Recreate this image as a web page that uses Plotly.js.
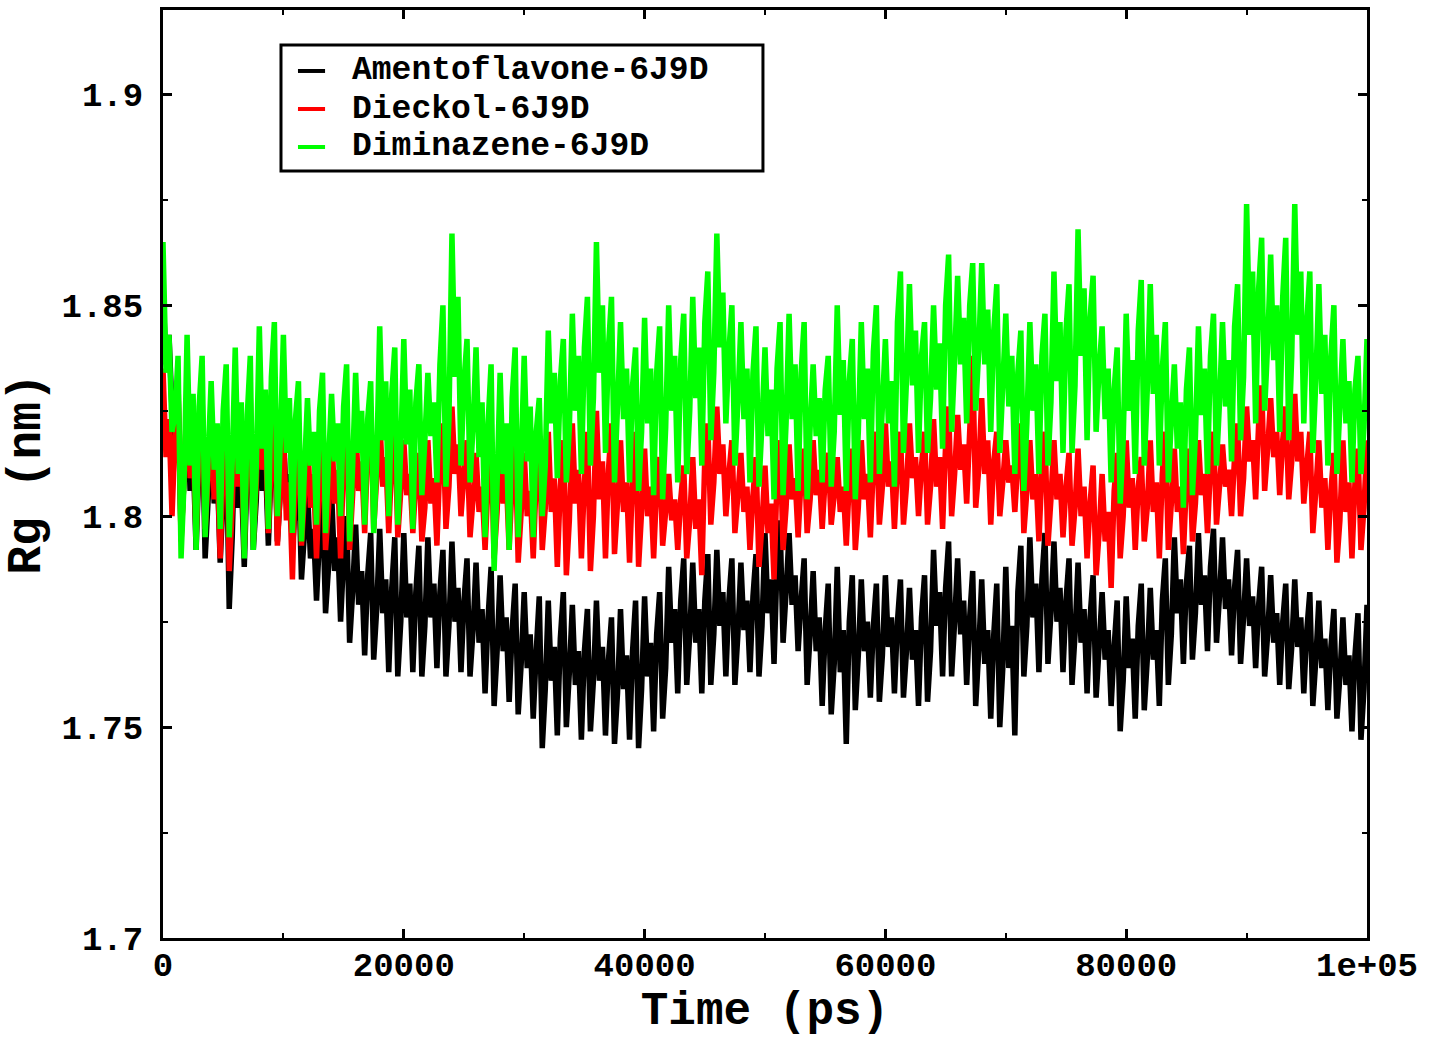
<!DOCTYPE html>
<html>
<head>
<meta charset="utf-8">
<script src="https://cdn.plot.ly/plotly-3.0.1.min.js"></script>
<style>
  body { margin: 0; background: #fff; }
  #chart { width: 1429px; height: 1039px; }
</style>
</head>
<body>
<div id="chart"></div>
<script>
// sampling grid, ps (one frame every 250 ps)
const time = Array.from({ length: 401 }, (_, i) => i * 250);

const seriesNames = ["Amentoflavone-6J9D", "Dieckol-6J9D", "Diminazene-6J9D"];
const seriesColors = ["#000000", "#ff0000", "#00ff00"];

// Rg (nm), 4 frames per 1000 ps
const amentoflavone = [
  1.853,1.836,1.843,1.825, 1.818,1.830,1.795,1.809, 1.828,1.806,1.815,1.792, 1.813,1.826,1.790,1.804,
  1.824,1.803,1.812,1.789, 1.805,1.820,1.778,1.795, 1.822,1.802,1.810,1.788, 1.812,1.823,1.792,1.804,
  1.825,1.806,1.814,1.793, 1.813,1.823,1.794,1.806, 1.820,1.803,1.810,1.792, 1.803,1.812,1.785,1.796,
  1.806,1.790,1.797,1.780, 1.795,1.804,1.777,1.788, 1.806,1.787,1.795,1.775, 1.790,1.800,1.770,1.782,
  1.798,1.779,1.787,1.767, 1.786,1.796,1.766,1.778, 1.797,1.777,1.785,1.763, 1.783,1.795,1.762,1.775,
  1.796,1.776,1.784,1.763, 1.782,1.793,1.762,1.774, 1.795,1.776,1.784,1.764, 1.782,1.792,1.762,1.774,
  1.794,1.775,1.783,1.763, 1.780,1.790,1.762,1.773, 1.789,1.770,1.778,1.758, 1.776,1.788,1.755,1.768,
  1.786,1.768,1.776,1.756, 1.773,1.784,1.753,1.765, 1.782,1.764,1.772,1.752, 1.768,1.781,1.745,1.759,
  1.780,1.761,1.769,1.748, 1.771,1.782,1.750,1.763, 1.779,1.760,1.768,1.747, 1.768,1.778,1.749,1.761,
  1.780,1.761,1.769,1.748, 1.766,1.776,1.746,1.758, 1.778,1.759,1.767,1.747, 1.768,1.780,1.745,1.759,
  1.781,1.762,1.770,1.749, 1.772,1.782,1.752,1.764, 1.788,1.770,1.778,1.758, 1.780,1.790,1.760,1.772,
  1.789,1.770,1.778,1.758, 1.780,1.791,1.760,1.772, 1.792,1.774,1.782,1.762, 1.780,1.790,1.760,1.772,
  1.789,1.773,1.780,1.763, 1.781,1.791,1.762,1.774, 1.796,1.777,1.785,1.765, 1.789,1.799,1.770,1.782,
  1.796,1.779,1.786,1.768, 1.780,1.790,1.760,1.772, 1.787,1.768,1.776,1.755, 1.773,1.784,1.753,1.765,
  1.788,1.763,1.773,1.746, 1.775,1.786,1.754,1.767, 1.785,1.768,1.775,1.757, 1.774,1.784,1.756,1.767,
  1.786,1.769,1.776,1.758, 1.775,1.785,1.757,1.768, 1.783,1.766,1.773,1.755, 1.776,1.786,1.756,1.768,
  1.792,1.774,1.782,1.762, 1.783,1.794,1.762,1.775, 1.790,1.772,1.780,1.760, 1.776,1.787,1.755,1.768,
  1.785,1.765,1.773,1.752, 1.772,1.784,1.750,1.764, 1.788,1.764,1.774,1.748, 1.782,1.793,1.762,1.774,
  1.795,1.776,1.784,1.763, 1.785,1.796,1.765,1.777, 1.794,1.775,1.783,1.763, 1.780,1.790,1.760,1.772,
  1.789,1.770,1.778,1.758, 1.776,1.786,1.757,1.769, 1.782,1.766,1.773,1.755, 1.769,1.780,1.749,1.761,
  1.781,1.764,1.771,1.752, 1.774,1.784,1.754,1.766, 1.783,1.766,1.773,1.755, 1.780,1.790,1.760,1.772,
  1.795,1.777,1.785,1.765, 1.784,1.793,1.766,1.777, 1.796,1.779,1.786,1.768, 1.788,1.797,1.770,1.781,
  1.795,1.778,1.785,1.767, 1.783,1.792,1.765,1.776, 1.790,1.774,1.781,1.764, 1.779,1.788,1.762,1.772,
  1.786,1.770,1.777,1.760, 1.775,1.784,1.759,1.769, 1.785,1.769,1.776,1.758, 1.773,1.782,1.755,1.766,
  1.780,1.764,1.771,1.754, 1.769,1.778,1.752,1.762, 1.776,1.760,1.767,1.749, 1.767,1.777,1.747,1.759,
  1.779
];

const dieckol = [
  1.835,1.814,1.823,1.800, 1.819,1.832,1.794,1.809, 1.830,1.809,1.818,1.795, 1.817,1.828,1.797,1.809,
  1.826,1.804,1.813,1.790, 1.812,1.825,1.787,1.802, 1.830,1.807,1.817,1.792, 1.816,1.828,1.794,1.808,
  1.834,1.811,1.821,1.796, 1.814,1.826,1.793,1.806, 1.820,1.799,1.808,1.785, 1.812,1.822,1.793,1.805,
  1.820,1.802,1.810,1.790, 1.809,1.818,1.792,1.802, 1.822,1.803,1.811,1.790, 1.813,1.824,1.792,1.805,
  1.822,1.806,1.813,1.796, 1.816,1.826,1.797,1.809, 1.824,1.807,1.814,1.796, 1.813,1.822,1.795,1.806,
  1.818,1.805,1.810,1.796, 1.808,1.815,1.794,1.802, 1.818,1.803,1.809,1.793, 1.813,1.822,1.797,1.807,
  1.826,1.810,1.817,1.800, 1.810,1.818,1.795,1.804, 1.815,1.801,1.807,1.792, 1.808,1.818,1.790,1.801,
  1.820,1.803,1.810,1.792, 1.808,1.818,1.789,1.801, 1.815,1.800,1.806,1.790, 1.809,1.818,1.792,1.802,
  1.820,1.801,1.809,1.788, 1.807,1.818,1.786,1.799, 1.822,1.803,1.811,1.790, 1.808,1.820,1.787,1.800,
  1.825,1.804,1.813,1.790, 1.811,1.822,1.791,1.803, 1.818,1.801,1.808,1.789, 1.809,1.820,1.788,1.801,
  1.816,1.800,1.807,1.790, 1.807,1.814,1.793,1.801, 1.810,1.799,1.804,1.792, 1.804,1.812,1.790,1.799,
  1.814,1.797,1.804,1.786, 1.814,1.822,1.798,1.808, 1.826,1.810,1.817,1.800, 1.810,1.818,1.796,1.805,
  1.815,1.801,1.807,1.792, 1.805,1.814,1.788,1.798, 1.812,1.796,1.803,1.785, 1.809,1.818,1.792,1.802,
  1.817,1.804,1.809,1.795, 1.809,1.816,1.796,1.804, 1.818,1.805,1.811,1.797, 1.809,1.815,1.798,1.805,
  1.814,1.801,1.807,1.793, 1.808,1.816,1.792,1.802, 1.818,1.804,1.810,1.795, 1.812,1.820,1.798,1.807,
  1.822,1.807,1.813,1.797, 1.812,1.820,1.798,1.807, 1.822,1.809,1.814,1.800, 1.812,1.820,1.798,1.807,
  1.823,1.807,1.814,1.797, 1.817,1.826,1.800,1.810, 1.824,1.811,1.817,1.803, 1.820,1.838,1.802,1.811,
  1.828,1.810,1.818,1.798, 1.813,1.820,1.800,1.808, 1.818,1.808,1.812,1.801, 1.813,1.822,1.796,1.806,
  1.818,1.804,1.810,1.794, 1.811,1.820,1.793,1.804, 1.818,1.804,1.810,1.795, 1.807,1.815,1.793,1.802,
  1.816,1.800,1.807,1.790, 1.803,1.812,1.786,1.796, 1.810,1.794,1.801,1.783, 1.806,1.815,1.790,1.800,
  1.818,1.802,1.809,1.792, 1.807,1.814,1.794,1.802, 1.818,1.801,1.808,1.790, 1.810,1.820,1.792,1.803,
  1.816,1.801,1.807,1.791, 1.808,1.816,1.794,1.803, 1.818,1.805,1.810,1.796, 1.812,1.820,1.798,1.807,
  1.817,1.807,1.811,1.800, 1.814,1.822,1.800,1.809, 1.826,1.813,1.818,1.804, 1.822,1.831,1.806,1.816,
  1.828,1.814,1.820,1.805, 1.818,1.826,1.804,1.813, 1.829,1.813,1.820,1.803, 1.812,1.820,1.796,1.806,
  1.818,1.802,1.809,1.792, 1.806,1.815,1.789,1.799, 1.818,1.801,1.808,1.790, 1.808,1.816,1.792,1.802,
  1.818
];

const diminazene = [
  1.865,1.834,1.843,1.820, 1.824,1.838,1.790,1.808, 1.843,1.812,1.829,1.792, 1.826,1.838,1.795,1.814,
  1.832,1.811,1.822,1.797, 1.825,1.836,1.795,1.813, 1.840,1.810,1.827,1.790, 1.824,1.838,1.792,1.812,
  1.845,1.816,1.830,1.797, 1.833,1.846,1.800,1.818, 1.843,1.815,1.828,1.796, 1.823,1.832,1.794,1.811,
  1.828,1.812,1.820,1.798, 1.825,1.834,1.796,1.813, 1.829,1.813,1.822,1.800, 1.826,1.836,1.794,1.812,
  1.834,1.815,1.825,1.798, 1.823,1.832,1.796,1.813, 1.845,1.818,1.832,1.800, 1.829,1.840,1.798,1.816,
  1.842,1.817,1.830,1.797, 1.827,1.836,1.805,1.818, 1.834,1.819,1.827,1.808, 1.836,1.850,1.807,1.823,
  1.867,1.833,1.852,1.812, 1.832,1.842,1.808,1.821, 1.840,1.814,1.827,1.795, 1.822,1.836,1.787,1.808,
  1.834,1.810,1.822,1.792, 1.828,1.840,1.795,1.814, 1.838,1.813,1.826,1.795, 1.820,1.828,1.800,1.812,
  1.844,1.822,1.834,1.809, 1.832,1.842,1.808,1.821, 1.848,1.825,1.838,1.810, 1.840,1.852,1.812,1.828,
  1.865,1.834,1.850,1.815, 1.840,1.852,1.808,1.826, 1.846,1.823,1.835,1.808, 1.831,1.840,1.806,1.820,
  1.847,1.822,1.835,1.805, 1.834,1.845,1.804,1.821, 1.850,1.825,1.838,1.808, 1.837,1.848,1.810,1.825,
  1.852,1.828,1.840,1.812, 1.846,1.858,1.818,1.834, 1.867,1.840,1.853,1.822, 1.839,1.850,1.812,1.827,
  1.846,1.823,1.835,1.808, 1.834,1.845,1.807,1.822, 1.840,1.819,1.830,1.804, 1.835,1.846,1.805,1.822,
  1.848,1.823,1.836,1.806, 1.834,1.846,1.804,1.821, 1.836,1.819,1.828,1.808, 1.830,1.838,1.807,1.820,
  1.850,1.824,1.837,1.806, 1.832,1.842,1.804,1.820, 1.846,1.823,1.835,1.808, 1.839,1.850,1.810,1.826,
  1.842,1.822,1.832,1.807, 1.846,1.858,1.815,1.832, 1.855,1.831,1.844,1.815, 1.838,1.846,1.815,1.828,
  1.850,1.830,1.841,1.816, 1.850,1.862,1.820,1.837, 1.857,1.836,1.847,1.822, 1.850,1.860,1.825,1.839,
  1.860,1.836,1.849,1.820, 1.844,1.855,1.815,1.831, 1.848,1.826,1.838,1.810, 1.834,1.844,1.806,1.822,
  1.846,1.825,1.836,1.810, 1.838,1.848,1.812,1.827, 1.858,1.832,1.846,1.815, 1.844,1.855,1.815,1.831,
  1.868,1.838,1.854,1.818, 1.847,1.857,1.820,1.835, 1.845,1.823,1.835,1.808, 1.830,1.840,1.803,1.818,
  1.848,1.825,1.837,1.810, 1.844,1.856,1.812,1.830, 1.855,1.829,1.843,1.812, 1.835,1.846,1.808,1.823,
  1.836,1.816,1.827,1.802, 1.830,1.840,1.805,1.819, 1.845,1.824,1.835,1.810, 1.838,1.848,1.812,1.827,
  1.846,1.826,1.837,1.813, 1.845,1.855,1.818,1.833, 1.874,1.843,1.858,1.822, 1.854,1.866,1.825,1.841,
  1.862,1.837,1.850,1.820, 1.852,1.866,1.818,1.838, 1.874,1.843,1.858,1.822, 1.846,1.858,1.815,1.832,
  1.855,1.829,1.843,1.812, 1.838,1.850,1.810,1.826, 1.842,1.822,1.832,1.808, 1.830,1.838,1.810,1.821,
  1.842
];

const xTickVals = [0, 20000, 40000, 60000, 80000, 100000];
const xTickText = ["0", "20000", "40000", "60000", "80000", "1e+05"];
const yTickVals = [1.7, 1.75, 1.8, 1.85, 1.9];
const yTickText = ["1.7", "1.75", "1.8", "1.85", "1.9"];

const mono = "'Liberation Mono', 'DejaVu Sans Mono', 'Courier New', monospace";

const traces = [amentoflavone, dieckol, diminazene].map((vals, i) => ({
  x: time,
  y: vals,
  name: seriesNames[i],
  type: 'scatter',
  mode: 'lines',
  line: { color: seriesColors[i], width: 5.5, simplify: false }
}));

// legend drawn as a boxed key like the original (tight line spacing)
const keyRows = [0.9343, 0.8933, 0.8524];
const shapes = [{
  type: 'rect', xref: 'paper', yref: 'paper',
  x0: 0.098, x1: 0.4983, y0: 0.8265, y1: 0.9623,
  line: { color: '#000', width: 3 }, fillcolor: '#fff', layer: 'above'
}];
const annotations = [];
seriesNames.forEach((name, i) => {
  shapes.push({
    type: 'line', xref: 'paper', yref: 'paper',
    x0: 0.1121, x1: 0.1346, y0: keyRows[i], y1: keyRows[i],
    line: { color: seriesColors[i], width: 4 }, layer: 'above'
  });
  annotations.push({
    xref: 'paper', yref: 'paper', x: 0.1553, y: keyRows[i],
    xanchor: 'left', yanchor: 'middle', showarrow: false, text: name,
    font: { family: mono, size: 33, color: '#000', weight: 'bold' }
  });
});

const axisCommon = {
  showgrid: false,
  zeroline: false,
  showline: true,
  linecolor: '#000',
  linewidth: 3,
  mirror: 'ticks',
  ticks: 'inside',
  ticklen: 9,
  tickwidth: 3,
  tickcolor: '#000',
  tickfont: { family: mono, size: 34, color: '#000', weight: 'bold' }
};

const layout = {
  width: 1429,
  height: 1039,
  margin: { l: 163, r: 62, t: 10, b: 101 },
  paper_bgcolor: '#fff',
  plot_bgcolor: '#fff',
  showlegend: false,
  shapes: shapes,
  annotations: annotations,
  xaxis: Object.assign({}, axisCommon, {
    range: [0, 100000],
    tickmode: 'array',
    tickvals: xTickVals,
    ticktext: xTickText,
    ticklabelstandoff: -6,
    minor: { dtick: 10000, ticks: 'inside', ticklen: 5, tickwidth: 2, tickcolor: '#000', showgrid: false },
    title: { text: 'Time (ps)', standoff: 8, font: { family: mono, size: 46, color: '#000', weight: 'bold' } }
  }),
  yaxis: Object.assign({}, axisCommon, {
    range: [1.7, 1.92],
    tickmode: 'array',
    tickvals: yTickVals,
    ticktext: yTickText,
    ticklabelstandoff: 10,
    minor: { dtick: 0.025, tick0: 1.7, ticks: 'inside', ticklen: 5, tickwidth: 2, tickcolor: '#000', showgrid: false },
    title: { text: 'Rg (nm)', standoff: 10, font: { family: mono, size: 48, color: '#000', weight: 'bold' } }
  })
};

Plotly.newPlot('chart', traces, layout, { displayModeBar: false, staticPlot: true });
</script>
</body>
</html>
